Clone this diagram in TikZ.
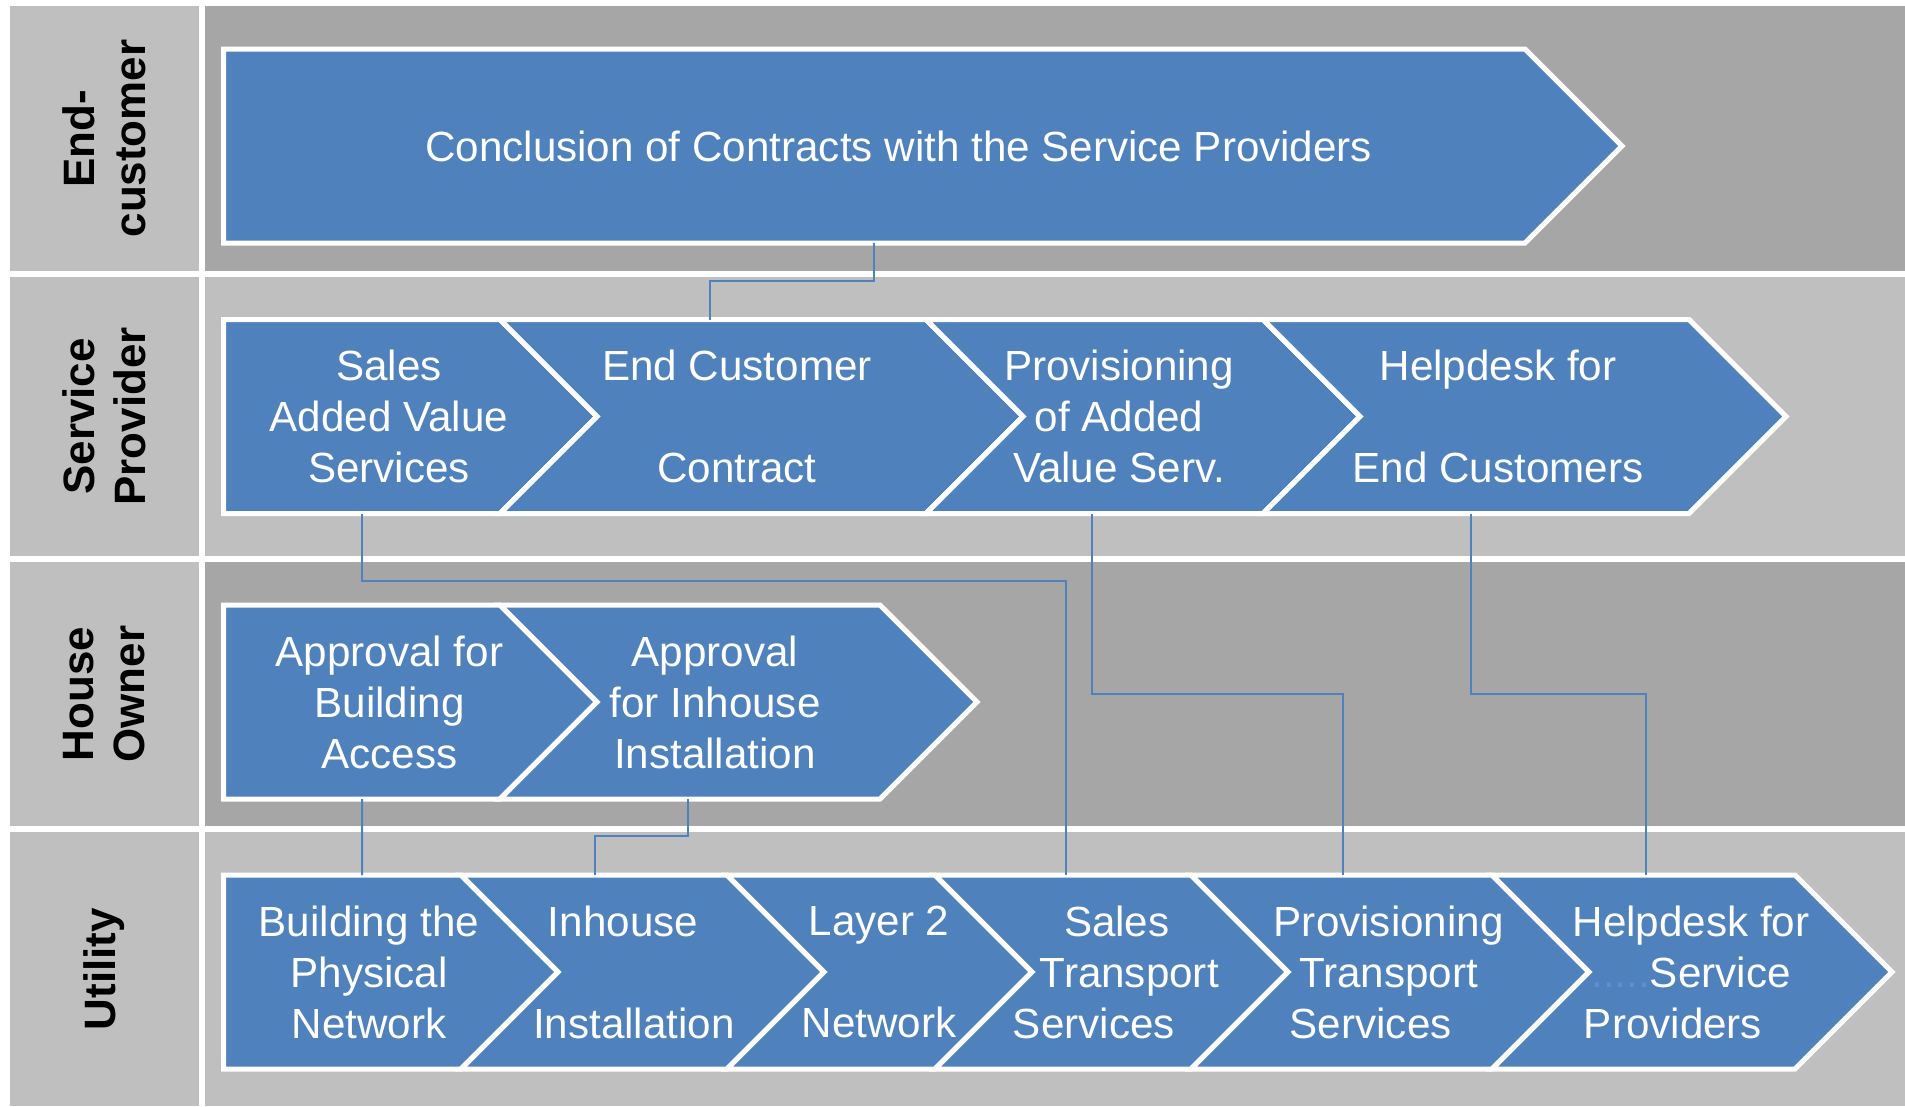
\documentclass[tikz,border=0pt]{standalone}
\usepackage{fontspec}
\setmainfont{Liberation Sans}
\usepackage{tikz}
\definecolor{boxblue}{HTML}{4F81BD}
\definecolor{lanedark}{HTML}{A6A6A6}
\definecolor{lanelight}{HTML}{BFBFBF}
\definecolor{dotblue}{HTML}{5C90D2}
\tikzstyle{chev} = [fill=boxblue, draw=white, line width=0.5mm]
\tikzstyle{boxtext} = [text=white, align=center, font=\fontsize{12pt}{14.5pt}\selectfont, minimum height=19.4mm, inner sep=0pt, outer sep=0pt]
\tikzstyle{lanelabel} = [rotate=90, align=center, font=\fontsize{12.5pt}{14.5pt}\selectfont\bfseries]
\tikzstyle{link} = [draw=boxblue, line width=0.2mm]

\begin{document}
\begin{tikzpicture}[x=0.1mm, y=-0.1mm]
        \useasboundingbox (0,0) rectangle (1905,1106);
        % lanes
        \foreach \t/\b/\c in {6/271/lanedark, 277/556/lanelight, 562/826/lanedark, 832/1106/lanelight}{
            \fill[lanelight] (10,\t) rectangle (199,\b);
            \fill[\c] (205,\t) rectangle (1905,\b);
        }
        \node[lanelabel] (lec) at (104.5,138.5) {End-\\customer};
        \node[lanelabel] (lsp) at (104.5,416.5) {Service\\Provider};
        \node[lanelabel] (lho) at (104.5,694) {House\\Owner};
        \node[lanelabel] (lut) at (104.5,969) {Utility};
        % chevrons: left, body end, middle, notch
        \foreach \a/\b/\y/\n in {223.5/1525/146/0, 223.5/500/416.5/0, 500/926/416.5/97, 926/1263/416.5/97, 1263/1689/416.5/97,
                223.5/500/702/0, 500/880/702/97,
                223.5/461/972/0, 461/727/972/97, 727/935/972/97, 935/1191/972/97, 1191/1492/972/97, 1492/1795/972/97}{
            \draw[chev] (\a,\y-97) -- (\b,\y-97) -- (\b+97,\y) -- (\b,\y+97) -- (\a,\y+97) -- (\a+\n,\y) -- cycle;
        }
        \node[boxtext] (ec) at (898.7,146) {Conclusion of Contracts with the Service Providers};
        \node[boxtext] (a1) at (389,416.5) {Sales\\Added Value\\Services};
        \node[boxtext] (a2) at (737,416.5) {End Customer\\~\\Contract};
        \node[boxtext] (a3) at (1119,416.5) {Provisioning\\of Added\\Value Serv.};
        \node[boxtext] (a4) at (1498,416.5) {Helpdesk for\\~\\End Customers};
        \node[boxtext] (b1) at (389.5,702) {Approval for\\Building\\Access};
        \node[boxtext] (b2) at (715,702) {Approval\\for Inhouse\\Installation};
        \node[boxtext] (c1) at (369,972) {Building the\\Physical\\Network};
        \node[boxtext] (c2) at (628.5,972) {Inhouse\hspace*{1.1mm}\\~\\\hspace*{1.1mm}Installation};
        \node[boxtext] (c3) at (879,972) {Layer 2\\~\\Network};
        \node[boxtext] (c4) at (1111.8,972) {\hspace*{1mm}Sales\\\hspace*{3.5mm}Transport\\Services\hspace*{3.6mm}};
        \node[boxtext] (c5) at (1388.7,972) {Provisioning\\Transport\\Services\hspace*{3.6mm}};
        \node[boxtext] (c6) at (1691,972) {Helpdesk for\\\textcolor{dotblue}{.....}Service\hspace*{3mm}\\Providers\hspace*{3.6mm}};
        % connectors
        \draw[link] ([xshift=-2.47mm]ec.south) -- ++(0,38) -| ([xshift=-2.7mm]a2.north);
        \draw[link] ([xshift=-2.7mm]a1.south) -- ++(0,67.5) -| ([xshift=-4.6mm]c4.north);
        \draw[link] ([xshift=-2.7mm]a3.south) -- ++(0,180.5) -| ([xshift=-4.57mm]c5.north);
        \draw[link] ([xshift=-2.7mm]a4.south) -- ++(0,180.5) -| ([xshift=-4.5mm]c6.north);
        \draw[link] ([xshift=-2.75mm]b1.south) -- ([xshift=-0.7mm]c1.north);
        \draw[link] ([xshift=-2.7mm]b2.south) -- ++(0,37) -| ([xshift=-3.35mm]c2.north);
    \end{tikzpicture}
\end{document}
